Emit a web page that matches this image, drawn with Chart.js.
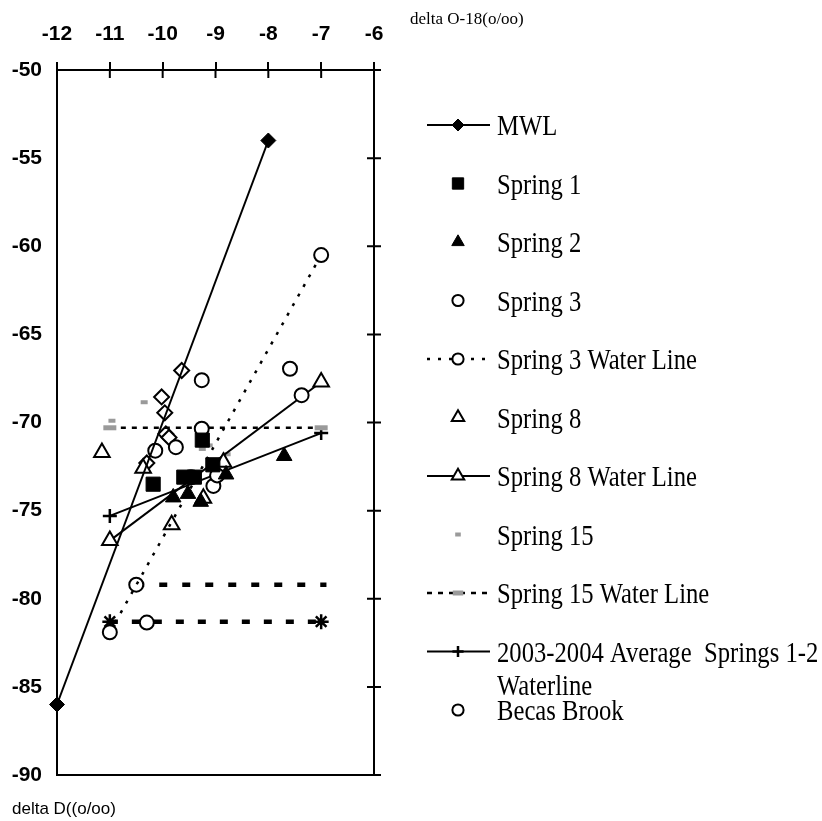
<!DOCTYPE html>
<html><head><meta charset="utf-8">
<script src="https://cdn.jsdelivr.net/npm/chart.js@4.4.0/dist/chart.umd.min.js"></script>
<style>html,body{margin:0;padding:0;background:#fff;}canvas{display:block;}</style>
</head><body>
<canvas id="c" width="822" height="821"></canvas>
<script>
// ---- data ----
const xTicks = [-12, -11, -10, -9, -8, -7, -6];
const yTicks = [-90, -85, -80, -75, -70, -65, -60, -55, -50];
const xTitle = "delta O-18(o/oo)";
const yTitle = "delta D((o/oo)";

const mwlX = [-12, -8];
const mwlY = [-86, -54];
const spring1X = [-10.18, -9.6, -9.4, -9.05, -9.25];
const spring1Y = [-73.5, -73.1, -73.1, -72.4, -71.0];
const spring2X = [-9.8, -9.52, -9.28, -8.8, -7.7];
const spring2Y = [-74.25, -74.05, -74.5, -72.95, -71.9];
const spring3X = [-9.26, -7.59, -7.37, -9.26, -9.75, -10.14, -9.45, -9.04, -8.97];
const spring3Y = [-67.6, -66.95, -68.45, -70.35, -71.4, -71.6, -73.1, -73.6, -73.0];
const spring3LineX = [-11, -7];
const spring3LineY = [-81.9, -60.5];
const spring8X = [-11.15, -10.37, -9.83, -9.23, -8.85];
const spring8Y = [-71.7, -72.6, -75.8, -74.3, -72.25];
const spring8LineX = [-11, -7];
const spring8LineY = [-76.7, -67.7];
const spring15X = [-10.35, -10.96, -9.25, -9.12, -8.78];
const spring15Y = [-68.85, -69.9, -71.5, -71.3, -71.8];
const spring15LineX = [-11, -7];
const spring15LineY = [-70.3, -70.3];
const avgLineX = [-11, -7];
const avgLineY = [-75.3, -70.6];
const becasX = [-10.5, -10.3];
const becasY = [-79.2, -81.35];
const diamondsX = [-9.64, -10.02, -9.96, -9.94, -9.88, -10.3];
const diamondsY = [-67.05, -68.55, -69.45, -70.65, -70.85, -72.3];
const dashAX = [-10.5, -6.9];
const dashAY = [-79.2, -79.2];
const dashBX = [-11, -7];
const dashBY = [-81.3, -81.3];

const labels = ["MWL", "Spring 1", "Spring 2", "Spring 3", "Spring 3 Water Line", "Spring 8",
  "Spring 8 Water Line", "Spring 15", "Spring 15 Water Line",
  "2003-2004 Average  Springs 1-2\nWaterline", "Becas Brook"];

const pts = (xs, ys) => xs.map((x, i) => ({ x: x, y: ys[i] }));
const GREY = '#9a9a9a';

const datasets = [
  { label: labels[0], data: pts(mwlX, mwlY), showLine: true, borderColor: '#000', borderWidth: 2,
    pointStyle: 'rectRot', pointRadius: 7.5, pointBackgroundColor: '#000', pointBorderColor: '#000', pointBorderWidth: 1 },
  { label: labels[1], data: pts(spring1X, spring1Y), showLine: false,
    pointStyle: 'rect', pointRadius: 10, pointBackgroundColor: '#000', pointBorderColor: '#000', pointBorderWidth: 1 },
  { label: labels[2], data: pts(spring2X, spring2Y), showLine: false,
    pointStyle: 'triangle', pointRadius: 9, pointBackgroundColor: '#000', pointBorderColor: '#000', pointBorderWidth: 1 },
  { label: labels[3], data: pts(spring3X, spring3Y), showLine: false,
    pointStyle: 'circle', pointRadius: 7, pointBackgroundColor: '#fff', pointBorderColor: '#000', pointBorderWidth: 2 },
  { label: labels[4], data: pts(spring3LineX, spring3LineY), showLine: true, borderColor: '#000', borderWidth: 2.5, borderDash: [3, 8],
    pointStyle: 'circle', pointRadius: 7, pointBackgroundColor: '#fff', pointBorderColor: '#000', pointBorderWidth: 2 },
  { label: labels[5], data: pts(spring8X, spring8Y), showLine: false,
    pointStyle: 'triangle', pointRadius: 9, pointBackgroundColor: '#fff', pointBorderColor: '#000', pointBorderWidth: 2 },
  { label: labels[6], data: pts(spring8LineX, spring8LineY), showLine: true, borderColor: '#000', borderWidth: 2,
    pointStyle: 'triangle', pointRadius: 9, pointBackgroundColor: '#fff', pointBorderColor: '#000', pointBorderWidth: 2 },
  { label: labels[7], data: pts(spring15X, spring15Y), showLine: false,
    pointStyle: 'line', pointRadius: 3.5, pointBackgroundColor: GREY, pointBorderColor: GREY, pointBorderWidth: 4 },
  { label: labels[8], data: pts(spring15LineX, spring15LineY), showLine: true, borderColor: '#000', borderWidth: 2.5, borderDash: [5, 6],
    pointStyle: 'line', pointRadius: 6.5, pointBackgroundColor: GREY, pointBorderColor: GREY, pointBorderWidth: 5 },
  { label: labels[9], data: pts(avgLineX, avgLineY), showLine: true, borderColor: '#000', borderWidth: 2,
    pointStyle: 'cross', pointRadius: 7, pointBackgroundColor: '#000', pointBorderColor: '#000', pointBorderWidth: 2.5 },
  { label: labels[10], data: pts(becasX, becasY), showLine: false,
    pointStyle: 'circle', pointRadius: 7, pointBackgroundColor: '#fff', pointBorderColor: '#000', pointBorderWidth: 2 },
  { label: '', data: pts(diamondsX, diamondsY), showLine: false,
    pointStyle: 'rectRot', pointRadius: 7.5, pointBackgroundColor: '#fff', pointBorderColor: '#000', pointBorderWidth: 2 },
  { label: '', data: pts(dashAX, dashAY), showLine: true, borderColor: '#000', borderWidth: 4.5, borderDash: [8, 15], pointRadius: 0 },
  { label: '', data: pts(dashBX, dashBY), showLine: true, borderColor: '#000', borderWidth: 4.5, borderDash: [8, 14],
    pointStyle: 'star', pointRadius: 7.5, pointBackgroundColor: '#000', pointBorderColor: '#000', pointBorderWidth: 2.5 }
];
datasets.forEach(d => { d.clip = false; d.pointHoverRadius = d.pointRadius; });

const framePlugin = {
  id: 'frame',
  afterDraw(chart) {
    const ctx = chart.ctx, ca = chart.chartArea, xs = chart.scales.x, ys = chart.scales.y;
    ctx.save();
    ctx.strokeStyle = '#000';
    ctx.lineWidth = 2;
    ctx.beginPath();
    ctx.moveTo(ca.left, ca.bottom); ctx.lineTo(ca.right, ca.bottom);
    ctx.moveTo(ca.right, ca.top - 8); ctx.lineTo(ca.right, ca.bottom);
    xs.ticks.forEach(t => { const p = xs.getPixelForValue(t.value); ctx.moveTo(p, ca.top); ctx.lineTo(p, ca.top + 8); });
    ys.ticks.forEach(t => { const p = ys.getPixelForValue(t.value); ctx.moveTo(ca.right - 7, p); ctx.lineTo(ca.right + 7, p); });
    ctx.stroke();

    // axis titles
    ctx.fillStyle = '#000';
    ctx.textBaseline = 'alphabetic';
    ctx.font = '17px "Liberation Serif"';
    ctx.fillText(xTitle, 410, 24);
    ctx.font = '17px "Liberation Sans"';
    ctx.fillText(yTitle, 12, 814);

    // legend
    const lx0 = 427, lx1 = 490, lmx = 458, tx = 497, y0 = 125, dy = 58.5;
    labels.forEach((lab, i) => {
      const d = datasets[i];
      const y = y0 + i * dy;
      if (d.showLine) {
        ctx.save();
        ctx.strokeStyle = d.borderColor;
        ctx.lineWidth = d.borderWidth;
        ctx.setLineDash(d.borderDash || []);
        ctx.beginPath(); ctx.moveTo(lx0, y); ctx.lineTo(lx1, y); ctx.stroke();
        ctx.restore();
      }
      ctx.save();
      ctx.fillStyle = d.pointBackgroundColor;
      ctx.strokeStyle = d.pointBorderColor;
      ctx.lineWidth = d.pointBorderWidth;
      ctx.setLineDash([]);
      Chart.helpers.drawPoint(ctx, { pointStyle: d.pointStyle, radius: d.pointRadius * 0.8, rotation: 0, borderWidth: d.pointBorderWidth }, lmx, y);
      ctx.restore();
      ctx.save();
      ctx.font = '29px "Liberation Serif"';
      ctx.fillStyle = '#000';
      ctx.textBaseline = 'alphabetic';
      lab.split('\n').forEach((line, k) => {
        ctx.save();
        ctx.translate(tx, y + 10 + k * 33.5);
        ctx.scale(0.85, 1);
        ctx.fillText(line, 0, 0);
        ctx.restore();
      });
      ctx.restore();
    });
    ctx.restore();
  }
};

new Chart(document.getElementById('c'), {
  type: 'scatter',
  data: { datasets: datasets },
  options: {
    responsive: false,
    animation: false,
    devicePixelRatio: 1,
    layout: { padding: { left: 0, top: 0, right: 448, bottom: 46 } },
    plugins: { legend: { display: false }, tooltip: { enabled: false } },
    scales: {
      x: {
        type: 'linear', position: 'top', min: -12, max: -6,
        afterBuildTicks: s => { s.ticks = xTicks.map(v => ({ value: v })); },
        afterFit: s => { s.height = 70; },
        grid: { drawOnChartArea: false, drawTicks: true, tickLength: 8, color: '#000', lineWidth: 2 },
        border: { display: true, color: '#000', width: 2 },
        ticks: { color: '#000', font: { family: '"Liberation Sans"', size: 21, weight: 'bold' }, padding: 15, maxRotation: 0 }
      },
      y: {
        type: 'linear', position: 'left', min: -90, max: -50,
        afterBuildTicks: s => { s.ticks = yTicks.map(v => ({ value: v })); },
        afterFit: s => { s.width = 57; },
        grid: { drawOnChartArea: false, drawTicks: false },
        border: { display: true, color: '#000', width: 2 },
        ticks: { color: '#000', font: { family: '"Liberation Sans"', size: 21, weight: 'bold' }, padding: 15 }
      }
    }
  },
  plugins: [framePlugin]
});
</script>
</body></html>
